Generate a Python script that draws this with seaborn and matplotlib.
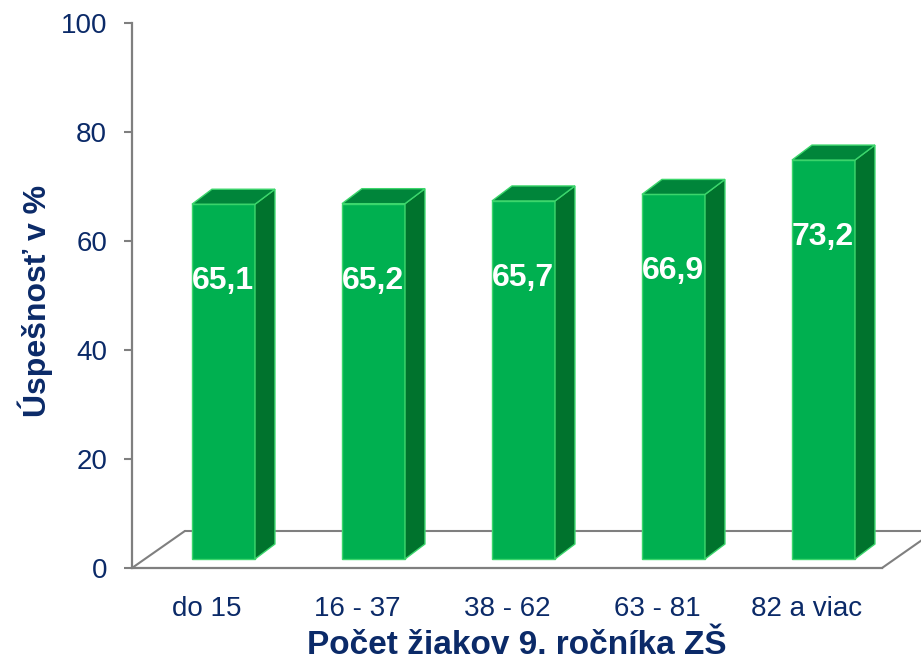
import numpy as np
import pandas as pd
import matplotlib
matplotlib.use("Agg")
import matplotlib.pyplot as plt
from matplotlib.patches import Polygon
import seaborn as sns

# data
categories = ["do 15", "16 - 37", "38 - 62", "63 - 81", "82 a viac"]
values = [65.1, 65.2, 65.7, 66.9, 73.2]
value_labels = ["65,1", "65,2", "65,7", "66,9", "73,2"]
yticks = [0, 20, 40, 60, 80, 100]

df = pd.DataFrame({"group": categories, "score": values})

navy = "#0B2A68"
grey = "#7F7F7F"
front = "#00B050"
side = "#00732D"
top = "#00853A"
edge = "#3CD66C"

sns.set_theme(style="white")
plt.rcParams["font.family"] = ["Liberation Sans", "DejaVu Sans"]

fig = plt.figure(figsize=(9.21, 6.61), dpi=100)
ax = fig.add_axes([132 / 921, 93 / 661, 750 / 921, 545 / 661])

sns.barplot(data=df, x="group", y="score", color=front, saturation=1,
            width=0.42, edgecolor=edge, linewidth=1, ax=ax, zorder=3)

ax.set_xlim(-0.5, 4.5)
ax.set_ylim(0, 100)

# pseudo 3d: shift front faces into the floor, add side and top faces
shift_x, shift_y = 0.11, 1.65     # front face position on the floor
depth_x, depth_y = 0.133, 2.75    # bar depth
floor_x, floor_y = 0.353, 6.8     # floor depth

for p, lab in zip(ax.patches, value_labels):
    p.set_x(p.get_x() + shift_x)
    p.set_y(shift_y)
    x0 = p.get_x()
    x1 = x0 + p.get_width()
    y0 = p.get_y()
    y1 = y0 + p.get_height()
    ax.add_patch(Polygon([(x1, y0), (x1 + depth_x, y0 + depth_y),
                          (x1 + depth_x, y1 + depth_y), (x1, y1)],
                         closed=True, facecolor=side, edgecolor=edge,
                         linewidth=1, zorder=3, clip_on=False))
    ax.add_patch(Polygon([(x0, y1), (x1, y1), (x1 + depth_x, y1 + depth_y),
                          (x0 + depth_x, y1 + depth_y)],
                         closed=True, facecolor=top, edgecolor=edge,
                         linewidth=1, zorder=3, clip_on=False))
    ax.annotate(lab, xy=((x0 + x1) / 2, y1), xytext=(-1, -85),
                textcoords="offset pixels", ha="center", va="baseline",
                color="white", fontsize=23, fontweight="bold", zorder=5)

# floor outline
lo, hi = ax.get_xlim()
ax.plot([lo, lo + floor_x], [0, floor_y], color=grey, lw=1.5, clip_on=False, zorder=1)
ax.plot([lo + floor_x, hi + floor_x], [floor_y, floor_y], color=grey, lw=1.5,
        clip_on=False, zorder=1)
ax.plot([hi, hi + floor_x], [0, floor_y], color=grey, lw=1.5, clip_on=False, zorder=1)

sns.despine(ax=ax, top=True, right=True)
for s in ["left", "bottom"]:
    ax.spines[s].set_color(grey)
    ax.spines[s].set_linewidth(1.6)

ax.set_yticks(yticks)
ax.tick_params(axis="y", which="both", left=True, direction="out", length=6,
               width=1.5, color=grey, labelsize=20, labelcolor=navy, pad=12)
ax.tick_params(axis="x", bottom=False, labelsize=20, labelcolor=navy, pad=14)

ax.set_xlabel("Počet žiakov 9. ročníka ZŠ", fontsize=24, fontweight="bold", color=navy)
ax.set_ylabel("Úspešnosť v %", fontsize=23, fontweight="bold", color=navy)
ax.xaxis.set_label_coords(0.513, -0.113)
ax.yaxis.set_label_coords(-0.106, 0.49)
ax.grid(False)

fig.savefig("out.png", dpi=100)
